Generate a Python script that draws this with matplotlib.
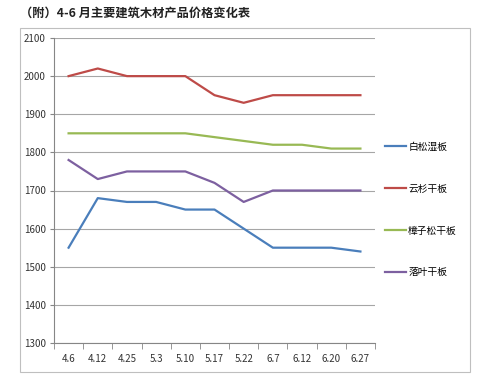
import matplotlib
matplotlib.use("Agg")
import matplotlib.pyplot as plt
from matplotlib.patches import Rectangle
from matplotlib.lines import Line2D

plt.rcParams['font.family'] = ['Noto Sans CJK SC', 'DejaVu Sans']

dates = ["4.6", "4.12", "4.25", "5.3", "5.10", "5.17", "5.22", "6.7", "6.12", "6.20", "6.27"]
names = ["白松湿板", "云杉干板", "樟子松干板", "落叶干板"]
baisong = [1550, 1680, 1670, 1670, 1650, 1650, 1600, 1550, 1550, 1550, 1540]
yunshan = [2000, 2020, 2000, 2000, 2000, 1950, 1930, 1950, 1950, 1950, 1950]
zhangzisong = [1850, 1850, 1850, 1850, 1850, 1840, 1830, 1820, 1820, 1810, 1810]
luoye = [1780, 1730, 1750, 1750, 1750, 1720, 1670, 1700, 1700, 1700, 1700]
series = [baisong, yunshan, zhangzisong, luoye]
colors = ["#4A7EBB", "#BE4B48", "#98B954", "#7D60A0"]

fig = plt.figure(figsize=(4.8, 3.76), dpi=100)
fig.patches.append(Rectangle((20/480, 1-372/376), 450/480, 344/376, transform=fig.transFigure,
                             fill=False, edgecolor="#BFBFBF", linewidth=0.8))
fig.text(20/480, 1-13/376, "（附）4-6 月主要建筑木材产品价格变化表", fontsize=8.8, fontweight="bold",
         va="center", ha="left", color="#222222")

ax = fig.add_axes([54/480, 1-343/376, 321/480, 305/376])
x = list(range(len(dates)))
for s, c, n in zip(series, colors, names):
    ax.plot(x, s, color=c, linewidth=1.6, label=n)

ax.set_xlim(-0.5, len(dates)-0.5)
ax.set_ylim(1300, 2100)
ax.set_yticks(range(1300, 2101, 100))
ax.set_xticks(x)
ax.set_xticklabels(dates)
ax.set_xticks([i - 0.5 for i in range(len(dates)+1)], minor=True)
ax.tick_params(axis='x', which='major', length=0, labelsize=7, pad=8, colors="#333333")
ax.tick_params(axis='x', which='minor', length=4, color="#868686", direction='out')
ax.tick_params(axis='y', length=3, color="#868686", labelsize=7, colors="#333333", pad=3)
ax.grid(axis='y', color="#A6A6A6", linewidth=0.8)
ax.set_axisbelow(True)
for sp in ["top", "right"]:
    ax.spines[sp].set_visible(False)
for sp in ["left", "bottom"]:
    ax.spines[sp].set_color("#868686")
    ax.spines[sp].set_linewidth(0.8)

handles = [Line2D([0], [0], color=c, linewidth=1.6) for c in colors]
fig.legend(handles, names, loc="upper left", bbox_to_anchor=(381/480, 1-138/376), frameon=False,
           fontsize=7, handlelength=2.2, handletextpad=0.2, labelspacing=3.27, borderaxespad=0)

fig.savefig("out.png", dpi=100)
